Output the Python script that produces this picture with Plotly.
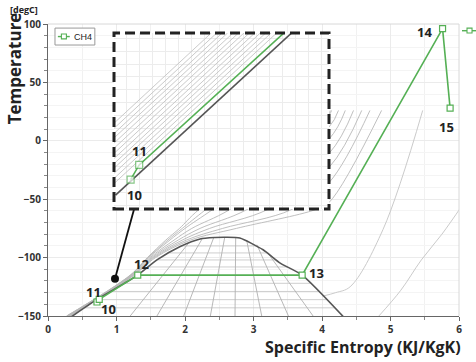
import plotly.graph_objects as go

# ---------------- data ----------------
cycle_labels = ["10", "11", "12", "13", "14", "15"]
cycle_s = [0.715, 0.748, 1.31, 3.71, 5.76, 5.87]
cycle_T = [-138.0, -135.7, -115.0, -115.0, 96.0, 28.0]

# saturation dome
dome_s = [0.345, 0.71, 1.31, 1.59, 1.93, 2.22, 2.44, 2.60, 2.80, 3.14, 3.39, 3.71, 4.31]
dome_T = [-150.5, -136, -115, -102, -90.5, -84, -82.8, -82.6, -83.3, -93.3, -104.7, -115, -150.5]

# isotherms inside the dome
iso_T = [-90, -96, -102, -108, -122, -129, -136, -143]
iso_sL = [1.95, 1.77, 1.59, 1.46, 1.11, 0.91, 0.71, 0.53]
iso_sV = [3.03, 3.20, 3.33, 3.49, 3.83, 3.95, 4.07, 4.19]

# vapour-quality lines
q_top_s = [2.05, 2.25, 2.42, 2.58, 2.74, 2.90, 3.05, 3.22]
q_top_T = [-87.8, -84.0, -82.8, -82.6, -83.0, -85.0, -89.0, -96.9]
q_bot_s = [1.20, 1.59, 1.98, 2.37, 2.73, 3.12, 3.51, 3.87]
q_bot_T = -150

# supercritical isobars (liquid bundle -> fan -> exit right of inset)
fan_T = [-150, -115, -100, -85, -75, -59]
fan_s = [
    [0.27, 1.20, 1.45, 1.72, 1.92, 2.20],
    [0.275, 1.205, 1.46, 1.75, 1.96, 2.30],
    [0.28, 1.21, 1.47, 1.78, 2.00, 2.40],
    [0.29, 1.22, 1.49, 1.84, 2.10, 2.65],
    [0.30, 1.23, 1.51, 1.90, 2.22, 2.90],
    [0.31, 1.24, 1.53, 1.96, 2.36, 3.20],
    [0.32, 1.25, 1.55, 2.02, 2.55, 3.55],
    [0.33, 1.26, 1.57, 2.08, 2.75, 3.90],
]
fan_exit_s = 4.10
fan_exit_T = [23.0, 21.9, 11.6, 1.3, -11.0, -23.0, -36.0, -53.0]
fan_end_s = [4.12, 4.14, 4.24, 4.34, 4.46, 4.58, 4.70, 4.87]
fan_end_T = 26

# subcritical superheated isobars
isoA_s = [4.01, 4.20, 4.41, 4.89, 5.47]
isoA_T = [-133, -130, -125, -76, 26]
isoB_s = [4.83, 5.15, 5.45, 5.75, 6.05]
isoB_T = [-150, -128, -102, -80, -55]

# inset (zoom of points 10-12)
inset_liq_s = [0.657, 1.345]
inset_liq_T = [-140.4, -114.8]
inset_grey_T_left = [-129.2, -130.0, -130.8, -131.5, -132.3, -133.1, -133.9,
                     -134.7, -135.5, -136.2, -137.0, -137.8, -138.6]
inset_grey_s_top = [1.026, 1.047, 1.068, 1.089, 1.110, 1.131, 1.152,
                    1.173, 1.194, 1.215, 1.236, 1.257, 1.278]
inset_s_range = [0.651, 1.480]
inset_T_range = [-142.56, -115.15]

connector_s = [1.255, 0.978]
connector_T = [-58.9, -118.2]

# ---------------- styles ----------------
GREEN = "#55b055"
GREY = "#bdbdbd"
DOME = "#555555"
FONT = "Open Sans"

fig = go.Figure()

def add_lines(xs, ys, color=GREY, width=0.9, shape="linear", xa="x", ya="y"):
    fig.add_trace(go.Scatter(x=xs, y=ys, mode="lines", xaxis=xa, yaxis=ya,
                             line=dict(color=color, width=width, shape=shape),
                             hoverinfo="skip", showlegend=False))

# isotherms
xs, ys = [], []
for T, a, b in zip(iso_T, iso_sL, iso_sV):
    xs += [a, b, None]; ys += [T, T, None]
add_lines(xs, ys, color="#c8c8c8", width=0.9)

# quality lines
xs, ys = [], []
for a, t, b in zip(q_top_s, q_top_T, q_bot_s):
    xs += [a, b, None]; ys += [t, q_bot_T, None]
add_lines(xs, ys, color="#b0b0b0", width=0.9)

# supercritical isobars
for i, row in enumerate(fan_s):
    xs = row + [fan_exit_s, fan_end_s[i]]
    ys = fan_T + [fan_exit_T[i], fan_end_T]
    add_lines(xs, ys, color="#b8b8b8", width=0.9, shape="spline")

add_lines(isoA_s, isoA_T, color="#c4c4c4", width=0.9, shape="spline")
add_lines(isoB_s, isoB_T, color="#c4c4c4", width=0.9, shape="spline")

# dome
fig.add_trace(go.Scatter(x=dome_s, y=dome_T, mode="lines",
                         line=dict(color=DOME, width=1.6, shape="spline", smoothing=0.6),
                         hoverinfo="skip", showlegend=False))

# cycle
fig.add_trace(go.Scatter(x=cycle_s, y=cycle_T, mode="lines+markers", name="CH4",
                         line=dict(color=GREEN, width=1.6),
                         marker=dict(symbol="square", size=6, color="white",
                                     line=dict(color=GREEN, width=1.2)),
                         showlegend=False))

# connector line + dot
fig.add_trace(go.Scatter(x=connector_s, y=connector_T, mode="lines",
                         line=dict(color="#111111", width=1.8),
                         hoverinfo="skip", showlegend=False))
fig.add_trace(go.Scatter(x=connector_s[1:], y=connector_T[1:], mode="markers",
                         marker=dict(color="#111111", size=8),
                         hoverinfo="skip", showlegend=False))

# ---------- inset ----------
xs, ys = [], []
for t, s in zip(inset_grey_T_left, inset_grey_s_top):
    xs += [inset_s_range[0], s, None]; ys += [t, inset_T_range[1], None]
add_lines(xs, ys, color="#c4c4c4", width=0.9, xa="x2", ya="y2")
add_lines(inset_liq_s, inset_liq_T, color=DOME, width=1.6, xa="x2", ya="y2")
fig.add_trace(go.Scatter(x=cycle_s[:3], y=cycle_T[:3], mode="lines+markers",
                         xaxis="x2", yaxis="y2",
                         line=dict(color=GREEN, width=1.6),
                         marker=dict(symbol="square", size=[7, 7, 0], color="white",
                                     line=dict(color=GREEN, width=1.2)),
                         hoverinfo="skip", showlegend=False))

# ---------- labels ----------
lab_font = dict(family=FONT, size=13, color="#222222", weight="bold")
main_shift = {"10": (12, -7), "11": (-6, 7), "12": (4, 11), "13": (14, 2),
              "14": (-18, -3), "15": (-4, -19)}
anns = []
for lab, s, t in zip(cycle_labels, cycle_s, cycle_T):
    dx, dy = main_shift[lab]
    anns.append(dict(x=s, y=t, xref="x", yref="y", text=lab, showarrow=False,
                     xshift=dx, yshift=dy, font=lab_font))
inset_shift = {"10": (4, -15), "11": (0, 14), "12": (11, -15)}
for lab, s, t in zip(cycle_labels[:3], cycle_s[:3], cycle_T[:3]):
    dx, dy = inset_shift[lab]
    anns.append(dict(x=s, y=t, xref="x2", yref="y2", text=lab, showarrow=False,
                     xshift=dx, yshift=dy, font=lab_font))

# axis titles
anns.append(dict(x=1.01, y=-0.106, xref="paper", yref="paper", xanchor="right",
                 yanchor="middle", showarrow=False, text="Specific Entropy (KJ/KgK)",
                 font=dict(family=FONT, size=16, color="#222222", weight="bold")))
anns.append(dict(x=-0.083, y=0.848, xref="paper", yref="paper", xanchor="center",
                 yanchor="middle", showarrow=False, text="Temperature", textangle=-90,
                 font=dict(family=FONT, size=17, color="#222222", weight="bold")))
anns.append(dict(x=-0.058, y=1.05, xref="paper", yref="paper", xanchor="center",
                 yanchor="middle", showarrow=False, text="[degC]",
                 font=dict(family=FONT, size=9, color="#222222", weight="bold")))
# legend text
anns.append(dict(x=0.058, y=0.957, xref="paper", yref="paper", xanchor="left",
                 yanchor="middle", showarrow=False, text="CH4",
                 font=dict(family="Liberation Sans Narrow, Liberation Sans", size=9,
                           color="#222222")))

# ---------- shapes ----------
inset_x = [0.1606, 0.6837]
inset_y = [0.3664, 0.9692]
shapes = [
    dict(type="rect", xref="paper", yref="paper", x0=inset_x[0], x1=inset_x[1],
         y0=inset_y[0], y1=inset_y[1], line=dict(color="#222222", width=3, dash="10px,5px"),
         layer="above"),
    # top/right plot frame
    dict(type="line", xref="paper", yref="paper", x0=0, x1=1, y0=1, y1=1,
         line=dict(color="#d8d8d8", width=1)),
    dict(type="line", xref="paper", yref="paper", x0=1, x1=1, y0=0, y1=1,
         line=dict(color="#d8d8d8", width=1)),
    # manual legend box
    dict(type="rect", xref="paper", yref="paper", x0=0.017, x1=0.114, y0=0.928, y1=0.986,
         line=dict(color="#999999", width=1), fillcolor="white", layer="above"),
    dict(type="line", xref="paper", yref="paper", x0=0.024, x1=0.053, y0=0.957, y1=0.957,
         line=dict(color=GREEN, width=1.4), layer="above"),
    dict(type="rect", xref="paper", yref="paper", x0=0.0326, x1=0.0448, y0=0.949, y1=0.966,
         line=dict(color=GREEN, width=1.1), fillcolor="white", layer="above"),
    # clipped item at the far right
    dict(type="line", xref="paper", yref="paper", x0=1.0073, x1=1.045, y0=0.977, y1=0.977,
         line=dict(color=GREEN, width=1.4), layer="above"),
    dict(type="rect", xref="paper", yref="paper", x0=1.0195, x1=1.0317, y0=0.969, y1=0.986,
         line=dict(color=GREEN, width=1.1), fillcolor="white", layer="above"),
]

tickfont = dict(family=FONT, size=10, color="#333333", weight="bold")
fig.update_layout(
    width=476, height=362,
    margin=dict(l=48, r=17, t=24, b=46),
    paper_bgcolor="white", plot_bgcolor="white",
    showlegend=False,
    annotations=anns, shapes=shapes,
    xaxis=dict(range=[0, 6], dtick=1, tick0=0, showline=True, linecolor="#666666",
               linewidth=1, ticks="outside", ticklen=4, tickcolor="#666666",
               tickfont=tickfont, showgrid=True, gridcolor="#ebebeb", zeroline=False,
               minor=dict(dtick=0.5, ticks="outside", ticklen=3, tickcolor="#888888",
                          showgrid=True, gridcolor="#f1f1f1")),
    yaxis=dict(range=[-150, 100], dtick=50, tick0=0, showline=True, linecolor="#666666",
               linewidth=1, ticks="outside", ticklen=4, tickcolor="#666666",
               tickfont=tickfont, showgrid=True, gridcolor="#ebebeb", zeroline=False,
               minor=dict(dtick=10, ticks="outside", ticklen=3, tickcolor="#888888",
                          showgrid=True, gridcolor="#f4f4f4")),
    xaxis2=dict(domain=inset_x, anchor="y2", range=inset_s_range, showticklabels=False,
                ticks="", showgrid=True, gridcolor="#ececec", dtick=0.05, tick0=0.65,
                zeroline=False, showline=False),
    yaxis2=dict(domain=inset_y, anchor="x2", range=inset_T_range, showticklabels=False,
                ticks="", showgrid=True, gridcolor="#ececec", dtick=2, tick0=-142,
                zeroline=False, showline=False),
)

fig.write_html("out.html")
